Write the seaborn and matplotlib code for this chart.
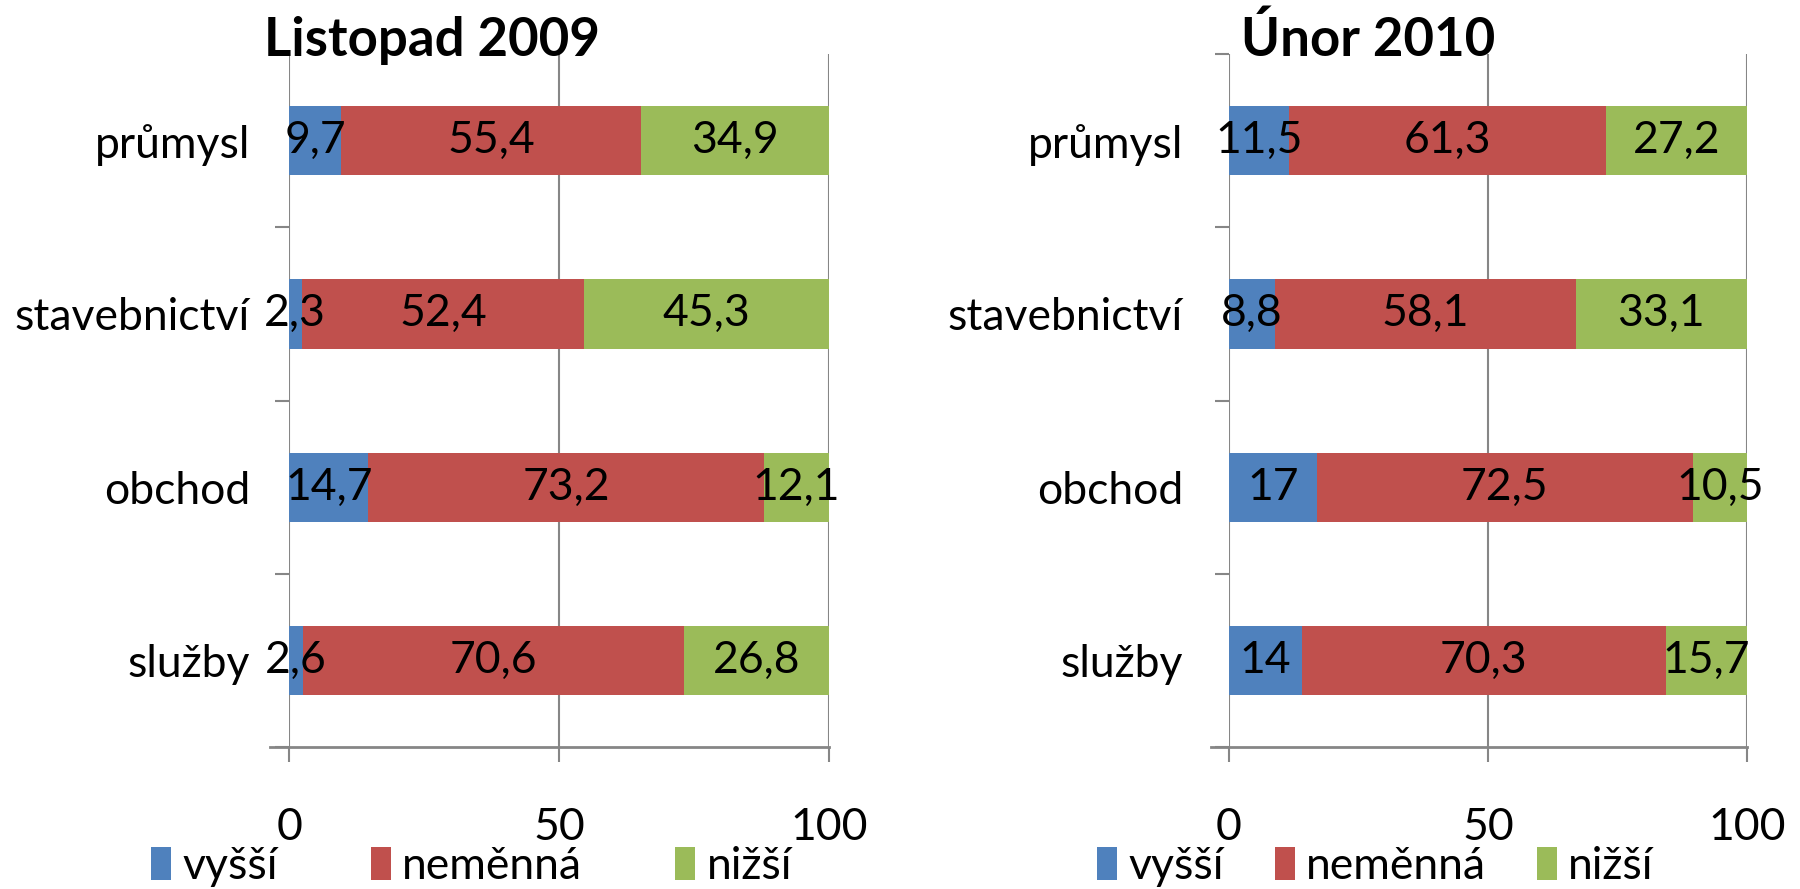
import matplotlib
matplotlib.use("Agg")
import matplotlib.pyplot as plt
import numpy as np
import pandas as pd
import seaborn as sns
from matplotlib.patches import Patch

categories = ["průmysl", "stavebnictví", "obchod", "služby"]
series_names = ["vyšší", "neměnná", "nižší"]
colors = ["#4F81BD", "#C0504D", "#9BBB59"]

# Listopad 2009
nov_vyssi = [9.7, 2.3, 14.7, 2.6]
nov_nemenna = [55.4, 52.4, 73.2, 70.6]
nov_nizsi = [34.9, 45.3, 12.1, 26.8]

# Únor 2010
feb_vyssi = [11.5, 8.8, 17, 14]
feb_nemenna = [61.3, 58.1, 72.5, 70.3]
feb_nizsi = [27.2, 33.1, 10.5, 15.7]

sns.set_theme(style="white")
plt.rcParams['font.family'] = ['Lato', 'DejaVu Sans']
plt.rcParams['text.color'] = 'black'
plt.rcParams['xtick.labelcolor'] = 'black'
plt.rcParams['ytick.labelcolor'] = 'black'

GRAY = "#868686"
FS = 32


def fmt(v):
    return f"{v:g}".replace(".", ",")


def draw_panel(ax, series, title_x, title, ypad, legend_x, colspace):
    left = np.zeros(len(categories))
    for name, vals, col in zip(series_names, series, colors):
        sns.barplot(x=np.array(vals, dtype=float), y=categories, order=categories,
                    color=col, width=0.40, left=left.copy(), ax=ax,
                    saturation=1, linewidth=0)
        cont = ax.containers[-1]
        ax.bar_label(cont, labels=[fmt(v) for v in vals], label_type="center",
                     fontsize=FS, color="black")
        left = left + np.array(vals, dtype=float)

    ax.set_xlim(0, 100)
    ax.set_ylim(3.5, -0.5)
    ax.set_xticks([0, 50, 100])
    ax.set_xticklabels(["0", "50", "100"])
    ax.set_xlabel("")
    ax.set_ylabel("")
    for x in [0, 50, 100]:
        ax.axvline(x, color=GRAY, lw=1.5, zorder=0)
    for s in ["top", "right", "left"]:
        ax.spines[s].set_visible(False)
    ax.spines["bottom"].set_color(GRAY)
    ax.spines["bottom"].set_linewidth(2)
    ax.tick_params(axis="x", direction="out", length=11, width=1.5, color=GRAY,
                   pad=32, labelsize=FS, bottom=True)
    ax.tick_params(axis="y", which="major", length=0, pad=ypad, labelsize=FS)
    ax.set_yticks([-0.5, 0.5, 1.5, 2.5, 3.5], minor=True)
    ax.tick_params(axis="y", which="minor", direction="out", length=10, width=1.5,
                   color=GRAY, left=True)
    ax.spines["bottom"].set_bounds(-3.5, 100)
    ax.figure.text(title_x, 0.937, title, fontsize=38, fontweight="bold",
                   ha="center", va="baseline")
    handles = [Patch(facecolor=c, edgecolor="none") for c in colors]
    ax.figure.legend(handles, series_names, loc="center", ncol=3,
                     bbox_to_anchor=(legend_x, 0.025), frameon=False,
                     fontsize=FS, handlelength=0.45, handleheight=0.75,
                     handletextpad=0.25, columnspacing=colspace,
                     borderpad=0, borderaxespad=0)


fig = plt.figure(figsize=(18, 8.89), dpi=100)
ax1 = fig.add_axes([0.1606, 0.1597, 0.3, 0.7795])
ax2 = fig.add_axes([0.6828, 0.1597, 0.2878, 0.7795])

draw_panel(ax1, [nov_vyssi, nov_nemenna, nov_nizsi], 0.24, "Listopad 2009", 28, 0.262, 2.1)
draw_panel(ax2, [feb_vyssi, feb_nemenna, feb_nizsi], 0.76, "Únor 2010", 33, 0.764, 1.15)

fig.savefig("out.png", dpi=100, facecolor="white")
